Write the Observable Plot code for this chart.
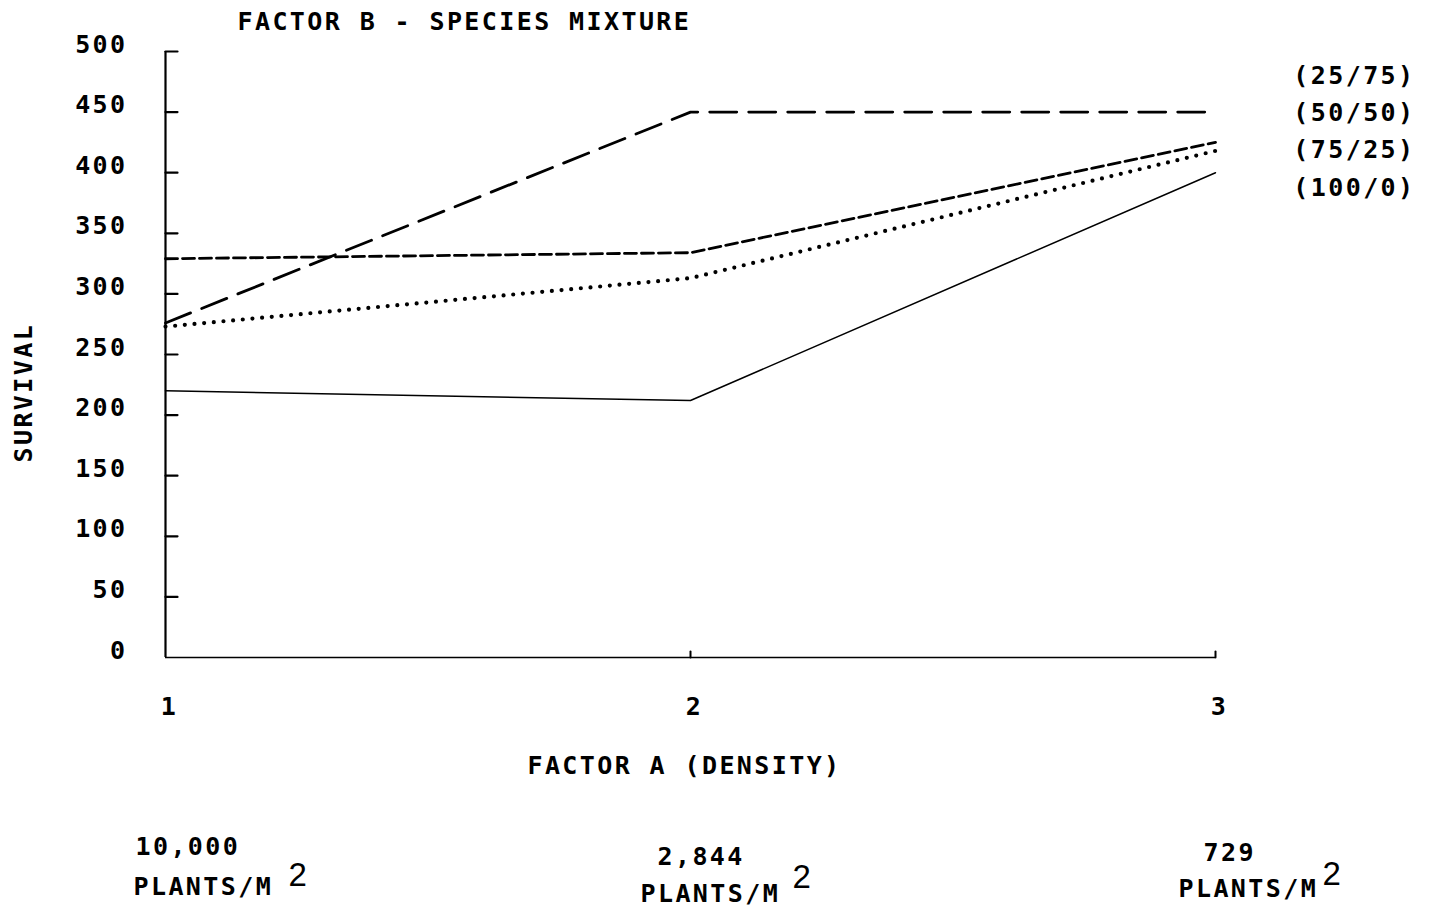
<!DOCTYPE html>
<html>
<head>
<meta charset="utf-8">
<script src="https://cdn.jsdelivr.net/npm/d3@7"></script>
<script src="https://cdn.jsdelivr.net/npm/@observablehq/plot@0.6"></script>
<style>
  html, body { margin: 0; padding: 0; background: #fff; }
</style>
</head>
<body>
<div id="chart"></div>
<script>
// ---- data ----
const densityLevels = [1, 2, 3];
const series2575 = [276, 450, 450];   // long dash
const series5050 = [329, 334, 425];   // short dash
const series7525 = [273, 313, 418];   // dotted
const series1000 = [220, 212, 400];   // solid
const seriesNames = ["(25/75)", "(50/50)", "(75/25)", "(100/0)"];
const yTicks = [0, 50, 100, 150, 200, 250, 300, 350, 400, 450, 500];
const xTicks = [1, 2, 3];
const densityNumbers = ["10,000", "2,844", "729"];
const densityUnit = "PLANTS/M";
const unitExponent = "2";
const titleText = "FACTOR B - SPECIES MIXTURE";
const xLabel = "FACTOR A (DENSITY)";
const yLabel = "SURVIVAL";

// ---- build rows ----
const allSeries = [series2575, series5050, series7525, series1000];
const rows = [];
allSeries.forEach((vals, s) => vals.forEach((v, i) => rows.push({series: seriesNames[s], x: densityLevels[i], y: v})));
const bySeries = name => rows.filter(r => r.series === name);

const FONT = "DejaVu Sans Mono";
const FS = 25;
const FW = "bold";

// tick shape for vector marks (a plain stroke)
const stick = { draw(ctx, l) { ctx.moveTo(0, 0); ctx.lineTo(0, -l); } };

// offsets of the hand-placed density labels (layout only)
const numDx = [-30, -33, -12], numDy = [189, 199, 195];
const unitDx = [-32, -50, -37], unitDy = [229, 236, 231];
const supDx = [123, 102, 107], supDy = [218, 220, 217];

const densityMarks = [];
densityLevels.forEach((lvl, i) => {
  densityMarks.push(Plot.text([densityNumbers[i]], {x: () => lvl, frameAnchor: "bottom", text: d => d,
    dx: numDx[i], dy: numDy[i], textAnchor: "start", lineAnchor: "middle", fontSize: FS, fontWeight: FW}));
  densityMarks.push(Plot.text([densityUnit], {x: () => lvl, frameAnchor: "bottom", text: d => d,
    dx: unitDx[i], dy: unitDy[i], textAnchor: "start", lineAnchor: "middle", fontSize: FS, fontWeight: FW}));
  densityMarks.push(Plot.text([unitExponent], {x: () => lvl, frameAnchor: "bottom", text: d => d,
    dx: supDx[i], dy: supDy[i], textAnchor: "start", lineAnchor: "middle",
    fontSize: 33, fontFamily: "Liberation Sans"}));
});

const chart = Plot.plot({
  width: 1436,
  height: 909,
  marginLeft: 165,
  marginRight: 221,
  marginTop: 51,
  marginBottom: 252,
  style: { fontFamily: FONT, letterSpacing: "2.4px", color: "#000", background: "#fff" },
  x: { domain: [1, 3] },
  y: { domain: [0, 500] },
  marks: [
    // axes labels
    Plot.axisY({ ticks: yTicks, tickSize: 0, tickPadding: 38, dy: -7, fontSize: FS, fontWeight: FW, label: null, tickFormat: d => String(d) }),
    Plot.axisX({ ticks: xTicks, tickSize: 0, tickPadding: 40, dx: 4, fontSize: FS, fontWeight: FW, label: null, tickFormat: d => String(d) }),
    // axis lines
    Plot.ruleX([1], { stroke: "#000", strokeWidth: 2.2 }),
    Plot.ruleY([0], { stroke: "#000", strokeWidth: 1.3 }),
    // inward ticks
    Plot.vector(yTicks.filter(d => d > 0), { y: d => d, frameAnchor: "left", length: 12, rotate: 90, anchor: "start", shape: stick, stroke: "#000", strokeWidth: 2.2 }),
    Plot.vector(xTicks.filter(d => d > 1), { x: d => d, frameAnchor: "bottom", length: 6, rotate: 0, anchor: "start", shape: stick, stroke: "#000", strokeWidth: 2 }),
    // series lines
    Plot.line(bySeries(seriesNames[0]), { x: "x", y: "y", stroke: "#000", strokeWidth: 2.8, strokeDasharray: "27,12" }),
    Plot.line(bySeries(seriesNames[1]), { x: "x", y: "y", stroke: "#000", strokeWidth: 2.8, strokeDasharray: "12,5" }),
    Plot.line(bySeries(seriesNames[2]), { x: "x", y: "y", stroke: "#000", strokeWidth: 4.2, strokeDasharray: "0,9.7", strokeLinecap: "round" }),
    Plot.line(bySeries(seriesNames[3]), { x: "x", y: "y", stroke: "#000", strokeWidth: 1.5 }),
    // legend labels (stacked list right of the frame)
    Plot.text([seriesNames.join("\n")], { frameAnchor: "top-right", text: d => d, dx: 200, dy: 6, textAnchor: "end", lineAnchor: "top", lineHeight: 1.49, fontSize: FS, fontWeight: FW }),
    // title
    Plot.text([titleText], { frameAnchor: "top-left", text: d => d, dx: 72, dy: -30, textAnchor: "start", lineAnchor: "middle", fontSize: FS, fontWeight: FW }),
    // x label
    Plot.text([xLabel], { frameAnchor: "bottom", text: d => d, dx: -6, dy: 108, lineAnchor: "middle", fontSize: FS, fontWeight: FW }),
    // y label
    Plot.text([yLabel], { frameAnchor: "left", text: d => d, dx: -142, dy: 108, rotate: -90, lineAnchor: "middle", fontSize: FS, fontWeight: FW }),
    ...densityMarks
  ]
});
document.getElementById("chart").appendChild(chart);
</script>
</body>
</html>
